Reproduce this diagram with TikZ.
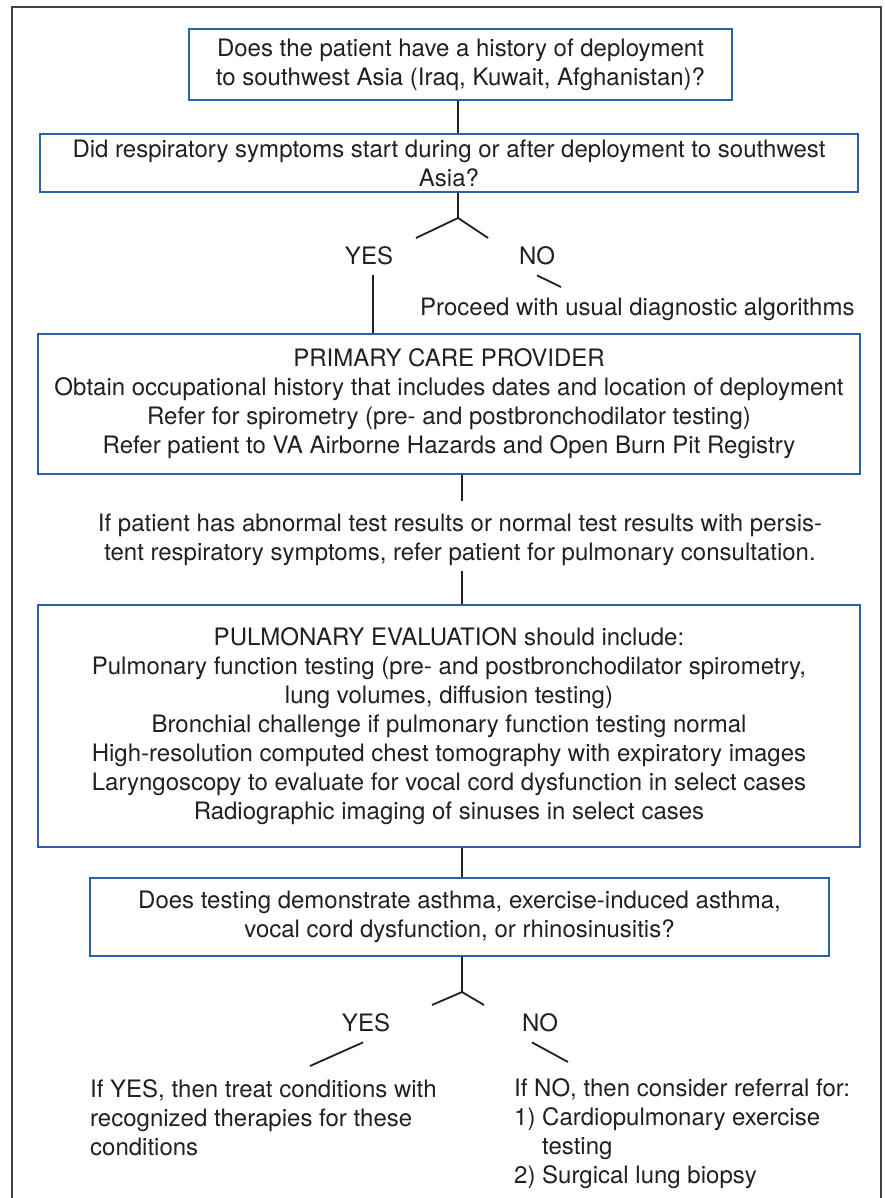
\documentclass[tikz,border=0pt]{standalone}
\usepackage{fontspec}
\setmainfont{TeX Gyre Heros}
\usetikzlibrary{positioning}
\definecolor{boxblue}{RGB}{45,95,175}
\definecolor{ink}{RGB}{35,31,32}

\begin{document}
\begin{tikzpicture}[x=1pt,y=-1pt,
    font=\fontsize{24}{29}\selectfont,
    text=ink,
    qbox/.style={draw=boxblue, line width=1.2pt, align=center, inner sep=0pt},
    link/.style={draw=ink, line width=1.8pt},
    answer/.style={inner sep=0pt}]
    \useasboundingbox (0,0) rectangle (884,1198);
    % Outer frame, open at the bottom
    \draw[draw=ink!85, line width=1.3pt] (12,1215) -- (12,7) -- (881,7) -- (881,1215);

    % Add the boxes
    \node[qbox,
          minimum width=543pt,
          minimum height=71pt] (deploy) at (460.5,64.5)
          {Does the patient have a history of deployment\\
           to southwest Asia (Iraq, Kuwait, Afghanistan)?};
    \node[qbox,
          minimum width=818pt,
          minimum height=58pt] (onset) at (449,163)
          {Did respiratory symptoms start during or after deployment to southwest\\
           Asia?};
    \node[qbox,
          minimum width=822pt,
          minimum height=140pt] (pcp) at (449,404)
          {PRIMARY CARE PROVIDER\\
           Obtain occupational history that includes dates and location of deployment\\
           Refer for spirometry (pre- and postbronchodilator testing)\\
           Refer patient to VA Airborne Hazards and Open Burn Pit Registry};
    \node[align=center,
          inner sep=0pt] (refer) at (460,540)
          {If patient has abnormal test results or normal test results with persis-\\
           tent respiratory symptoms, refer patient for pulmonary consultation.};
    \node[qbox,
          minimum width=822pt,
          minimum height=242pt] (pulm) at (449,726)
          {PULMONARY EVALUATION should include:\\
           Pulmonary function testing (pre- and postbronchodilator spirometry,\\
           lung volumes, diffusion testing)\\
           Bronchial challenge if pulmonary function testing normal\\
           High-resolution computed chest tomography with expiratory images\\
           Laryngoscopy to evaluate for vocal cord dysfunction in select cases\\
           Radiographic imaging of sinuses in select cases};
    \node[qbox,
          minimum width=739pt,
          minimum height=78pt] (dx) at (459.5,917)
          {Does testing demonstrate asthma, exercise-induced asthma,\\
           vocal cord dysfunction, or rhinosinusitis?};

    % Answers and outcomes
    \node[answer] (yes1) at (369,256) {YES};
    \node[answer] (no1) at (537,256) {NO};
    \node[answer, anchor=west] (usual) at (420,309) {Proceed with usual diagnostic algorithms};
    \node[answer] (yes2) at (366,1023) {YES};
    \node[answer] (no2) at (540,1023) {NO};
    \node[answer,
          align=left,
          anchor=north west] (treat) at (90,1079)
          {If YES, then treat conditions with\\
           recognized therapies for these\\
           conditions};
    \node[answer,
          align=left,
          anchor=north west] (consider) at (514,1078)
          {If NO, then consider referral for:\\
           1) Cardiopulmonary exercise\\
           \phantom{1) }testing\\
           2) Surgical lung biopsy};

    % Fork points and free ends
    \coordinate (fork1) at (458,218);
    \coordinate (yestip1) at (416,238);
    \coordinate (notip1) at (488,238);
    \coordinate (notail1) at (561,287);
    \coordinate (fork2) at (462,992);
    \coordinate (yestip2) at (432,1005);
    \coordinate (notip2) at (484,1005);
    \coordinate (yestail2) at (310,1066);
    \coordinate (notail2) at (568,1062);

    % Connect the boxes
    \draw[link] (deploy.south -| fork1) -- (onset.north -| fork1);
    \draw[link] (onset.south -| fork1) -- (fork1) -- (yestip1);
    \draw[link] (fork1) -- (notip1);
    \draw[link] ([xshift=4pt,yshift=-10pt]yes1.south) -- ([xshift=4pt]yes1.south |- pcp.north);
    \draw[link] ([yshift=-10pt]no1.south) -- (notail1);
    \draw[link] (pcp.south -| fork2) -- ([yshift=13pt]refer.north -| fork2);
    \draw[link] ([yshift=-5pt]refer.south -| fork2) -- (pulm.north -| fork2);
    \draw[link] (pulm.south -| fork2) -- (dx.north -| fork2);
    \draw[link] (dx.south -| fork2) -- (fork2) -- (yestip2);
    \draw[link] (fork2) -- (notip2);
    \draw[link] ([xshift=-3pt,yshift=-10pt]yes2.south) -- (yestail2);
    \draw[link] ([xshift=-8pt,yshift=-10pt]no2.south) -- (notail2);
\end{tikzpicture}
\end{document}
